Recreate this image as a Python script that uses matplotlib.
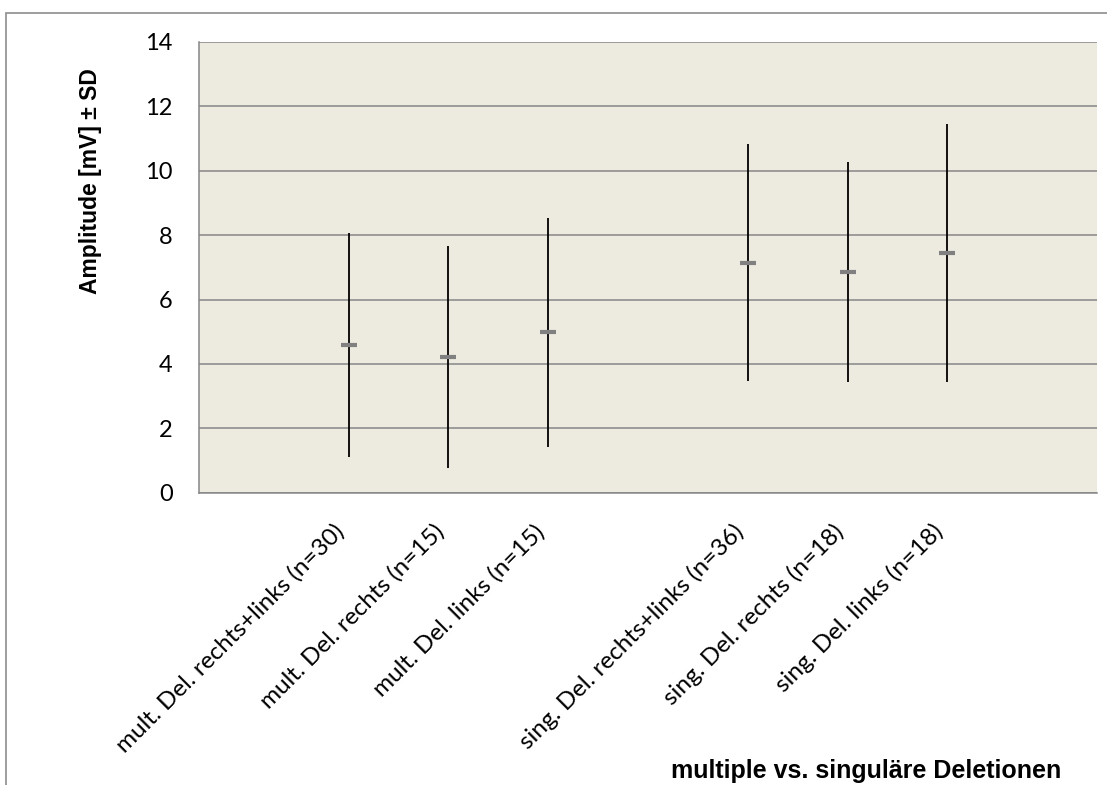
import matplotlib
matplotlib.use("Agg")
import matplotlib.pyplot as plt
from matplotlib.patches import Rectangle

# data (mean +/- SD, amplitude in mV)
categories = ["", "mult. Del. rechts+links (n=30)", "mult. Del. rechts (n=15)",
              "mult. Del. links (n=15)", "", "sing. Del. rechts+links (n=36)",
              "sing. Del. rechts (n=18)", "sing. Del. links (n=18)", ""]
pos = [1, 2, 3, 5, 6, 7]
means = [4.59, 4.21, 4.98, 7.14, 6.85, 7.45]
sds = [3.47, 3.45, 3.56, 3.68, 3.41, 4.00]
yticks = [0, 2, 4, 6, 8, 10, 12, 14]

W, H = 1107, 785
fig = plt.figure(figsize=(W / 100, H / 100), dpi=100)

# outer chart frame (only left and top visible)
fig.patches.append(Rectangle((6 / W, -0.5), 2.0, 1.5 - 13 / H,
                             transform=fig.transFigure, fill=False,
                             edgecolor="#8c8c8c", linewidth=1.2))

ax = fig.add_axes([199 / W, 1 - 492.7 / H, (1097 - 199) / W, (492.7 - 42) / H])
ax.set_facecolor("#edeae0")

ax.set_ylim(0, 14)
ax.set_xlim(-0.5, len(categories) - 0.5)
ax.set_yticks(yticks)
ax.yaxis.grid(True, color="#868686", linewidth=1.1)
ax.set_axisbelow(True)

for s in ["top", "right"]:
    ax.spines[s].set_visible(False)
for s in ["left", "bottom"]:
    ax.spines[s].set_color("#868686")
    ax.spines[s].set_linewidth(1.1)

# SD bars and mean dashes
ax.vlines(pos, [m - s for m, s in zip(means, sds)], [m + s for m, s in zip(means, sds)],
          color="black", linewidth=1.3, zorder=3)
ax.plot(pos, means, linestyle="none", marker="_", markersize=11.5,
        markeredgewidth=3.0, color="#808080", zorder=4)

ax.tick_params(axis="both", length=0)
ax.tick_params(axis="y", pad=19)
ax.set_yticklabels([str(t) for t in yticks], fontsize=17, family="Lato")
ax.set_xticks(range(len(categories)))
ax.set_xticklabels(categories, rotation=45, ha="right", va="top",
                   fontsize=17.5, family="Lato")
ax.tick_params(axis="x", pad=20)

fig.text(90 / W, 1 - 181 / H, "Amplitude [mV] ± SD", rotation=90, ha="center",
         va="center", fontsize=16.5, fontweight="bold", family="Liberation Sans")
fig.text(866 / W, 1 - 778 / H, "multiple vs. singuläre Deletionen", ha="center",
         va="baseline", fontsize=18, fontweight="bold", family="Liberation Sans")

fig.savefig("out.png", dpi=100)
